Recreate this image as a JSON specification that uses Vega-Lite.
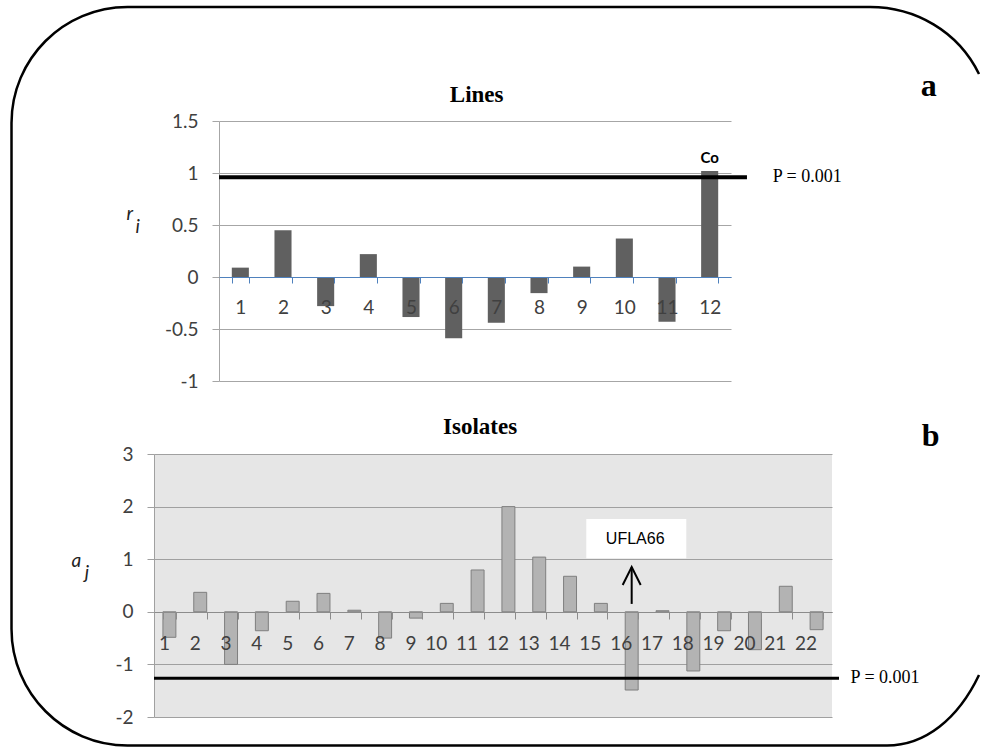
{
  "$schema": "https://vega.github.io/schema/vega-lite/v6.json",
  "padding": {"left": 6, "top": 2, "right": 0, "bottom": 0},
  "background": "white",
  "datasets": {
    "lines": [
      {"line": 1, "r": 0.09}, {"line": 2, "r": 0.45}, {"line": 3, "r": -0.28},
      {"line": 4, "r": 0.22}, {"line": 5, "r": -0.385}, {"line": 6, "r": -0.59},
      {"line": 7, "r": -0.44}, {"line": 8, "r": -0.155}, {"line": 9, "r": 0.1},
      {"line": 10, "r": 0.37}, {"line": 11, "r": -0.43}, {"line": 12, "r": 1.02, "label": "Co"}
    ],
    "isolates": [
      {"isolate": 1, "a": -0.485}, {"isolate": 2, "a": 0.37}, {"isolate": 3, "a": -1.0},
      {"isolate": 4, "a": -0.36}, {"isolate": 5, "a": 0.2}, {"isolate": 6, "a": 0.35},
      {"isolate": 7, "a": 0.03}, {"isolate": 8, "a": -0.5}, {"isolate": 9, "a": -0.12},
      {"isolate": 10, "a": 0.16}, {"isolate": 11, "a": 0.795}, {"isolate": 12, "a": 2.0},
      {"isolate": 13, "a": 1.04}, {"isolate": 14, "a": 0.675}, {"isolate": 15, "a": 0.16},
      {"isolate": 16, "a": -1.487}, {"isolate": 17, "a": 0.02}, {"isolate": 18, "a": -1.125},
      {"isolate": 19, "a": -0.36}, {"isolate": 20, "a": -0.72}, {"isolate": 21, "a": 0.485},
      {"isolate": 22, "a": -0.34}
    ],
    "panelA": [{"title": "Lines", "tag": "a", "threshold": 0.96, "plabel": "P = 0.001"}],
    "panelB": [{"title": "Isolates", "tag": "b", "threshold": -1.264, "plabel": "P = 0.001"}],
    "noteB": [{"isolate": 16, "label": "UFLA66"}]
  },
  "vconcat": [
    {
      "width": 577, "height": 260,
      "view": {"stroke": null, "fill": "white"},
      "layer": [
        {
          "data": {"name": "lines"},
          "mark": {"type": "bar", "color": "#606060"},
          "encoding": {
            "x": {"field": "line", "type": "ordinal",
              "scale": {"paddingInner": 0.6, "paddingOuter": 0.3, "range": [65, 577]},
              "axis": {"title": null, "offset": -104, "domainColor": "#4f81bd", "tickColor": "#4f81bd",
                "tickSize": 6, "tickBand": "extent", "labelAngle": 0, "labelFont": "Lato", "labelFontSize": 19,
                "labelColor": "#404040", "labelPadding": 15, "grid": false, "zindex": 1}},
            "y": {"field": "r", "type": "quantitative",
              "scale": {"domain": [-1, 1.5], "nice": false},
              "axis": {"values": [-1, -0.5, 0, 0.5, 1, 1.5], "labelExpr": "datum.value + ''", "offset": -65,
                "grid": true, "gridColor": "#a6a6a6", "domainColor": "#a6a6a6", "tickColor": "#a6a6a6",
                "tickSize": 7, "labelFont": "Lato", "labelFontSize": 19, "labelColor": "#404040", "labelPadding": 14,
                "title": ["r", "\u200b\u00a0\u00a0i"], "titleAngle": 0, "titleFont": "Lato", "titleFontStyle": "italic",
                "titleFontWeight": "normal", "titleFontSize": 19, "titleColor": "#222222",
                "titleX": -93, "titleY": 98, "titleAlign": "left", "titleBaseline": "alphabetic", "titleLineHeight": 13}}
          }
        },
        {
          "data": {"name": "lines"},
          "transform": [{"filter": "datum.label"}],
          "mark": {"type": "text", "font": "Lato", "fontWeight": "bold", "fontSize": 15, "color": "black", "baseline": "bottom", "dy": -5},
          "encoding": {
            "x": {"field": "line", "type": "ordinal"},
            "y": {"field": "r", "type": "quantitative"},
            "text": {"field": "label"}
          }
        },
        {
          "data": {"name": "panelA"},
          "mark": {"type": "rule", "color": "black", "strokeWidth": 4, "xOffset": -21.3, "x2Offset": 37.3},
          "encoding": {
            "x": {"datum": 1, "type": "ordinal"},
            "x2": {"datum": 12},
            "y": {"field": "threshold", "type": "quantitative"}
          }
        },
        {
          "data": {"name": "panelA"},
          "mark": {"type": "text", "font": "Liberation Serif", "fontSize": 18, "color": "black", "align": "left", "baseline": "middle", "dx": 63},
          "encoding": {
            "x": {"datum": 12, "type": "ordinal"},
            "y": {"field": "threshold", "type": "quantitative"},
            "text": {"field": "plabel"}
          }
        },
        {
          "data": {"name": "panelA"},
          "mark": {"type": "text", "font": "Liberation Serif", "fontWeight": "bold", "fontSize": 32, "color": "black", "align": "center", "baseline": "alphabetic", "dx": 219, "dy": -25},
          "encoding": {
            "x": {"datum": 12, "type": "ordinal"},
            "y": {"datum": 1.5, "type": "quantitative"},
            "text": {"field": "tag"}
          }
        },
        {
          "data": {"name": "panelA"},
          "mark": {"type": "text", "font": "Liberation Serif", "fontWeight": "bold", "fontSize": 23, "color": "black", "align": "center", "baseline": "alphabetic", "dx": 23, "dy": -19},
          "encoding": {
            "x": {"datum": 6, "type": "ordinal"},
            "y": {"datum": 1.5, "type": "quantitative"},
            "text": {"field": "title"}
          }
        }
      ]
    },
    {
      "width": 678, "height": 263,
      "view": {"stroke": null, "fill": "#e6e6e6"},
      "layer": [
        {
          "data": {"values": [{"element": "frame"}]},
          "mark": {"type": "point", "filled": false, "opacity": 1, "stroke": "black", "strokeWidth": 2.5, "size": 4,
            "shape": "M 809.6 -380 C 788.6 -423 745.6 -447 700.6 -447 L -41.9 -447 C -105.9 -447 -157.9 -395 -157.9 -331 L -157.9 175 C -157.9 239 -105.9 291.5 -41.9 291.5 L 717.6 291.5 C 755.6 291.5 788.6 265 809.6 221"},
          "encoding": {
            "x": {"datum": 1, "type": "ordinal"},
            "y": {"datum": 3, "type": "quantitative"}
          }
        },
        {
          "data": {"name": "isolates"},
          "mark": {"type": "bar", "color": "#b3b3b3", "stroke": "#7f7f7f", "strokeWidth": 1},
          "encoding": {
            "x": {"field": "isolate", "type": "ordinal",
              "scale": {"paddingInner": 0.58, "paddingOuter": 0.29},
              "axis": {"title": null, "offset": -105, "domainColor": "#8c8c8c", "tickColor": "#8c8c8c",
                "tickSize": 7, "tickBand": "extent", "labelAngle": 0, "labelFont": "Lato", "labelFontSize": 19,
                "labelColor": "#404040", "labelPadding": 24, "grid": false, "zindex": 1}},
            "y": {"field": "a", "type": "quantitative",
              "scale": {"domain": [-2, 3], "nice": false},
              "axis": {"values": [-2, -1, 0, 1, 2, 3], "labelExpr": "datum.value + ''",
                "grid": true, "gridColor": "#a0a0a0", "domainColor": "#a0a0a0", "tickColor": "#a0a0a0",
                "tickSize": 7, "labelFont": "Lato", "labelFontSize": 19, "labelColor": "#404040", "labelPadding": 14,
                "title": ["a", "\u200b\u00a0\u00a0\u00a0j"], "titleAngle": 0, "titleFont": "Lato", "titleFontStyle": "italic",
                "titleFontWeight": "normal", "titleFontSize": 19, "titleColor": "#222222",
                "titleX": -83, "titleY": 112, "titleAlign": "left", "titleBaseline": "alphabetic", "titleLineHeight": 12}}
          }
        },
        {
          "data": {"name": "panelB"},
          "mark": {"type": "rule", "color": "black", "strokeWidth": 3, "xOffset": 7},
          "encoding": {"y": {"field": "threshold", "type": "quantitative"}}
        },
        {
          "data": {"name": "panelB"},
          "mark": {"type": "text", "font": "Liberation Serif", "fontSize": 18, "color": "black", "align": "left", "baseline": "middle", "dx": 34},
          "encoding": {
            "x": {"datum": 22, "type": "ordinal"},
            "y": {"field": "threshold", "type": "quantitative"},
            "text": {"field": "plabel"}
          }
        },
        {
          "data": {"name": "panelB"},
          "mark": {"type": "text", "font": "Liberation Serif", "fontWeight": "bold", "fontSize": 32, "color": "black", "align": "center", "baseline": "alphabetic", "dx": 114, "dy": -8},
          "encoding": {
            "x": {"datum": 22, "type": "ordinal"},
            "y": {"datum": 3, "type": "quantitative"},
            "text": {"field": "tag"}
          }
        },
        {
          "data": {"name": "panelB"},
          "mark": {"type": "text", "font": "Liberation Serif", "fontWeight": "bold", "fontSize": 23, "color": "black", "align": "center", "baseline": "alphabetic", "dx": 2.5, "dy": -20},
          "encoding": {
            "x": {"datum": 11, "type": "ordinal"},
            "y": {"datum": 3, "type": "quantitative"},
            "text": {"field": "title"}
          }
        },
        {
          "data": {"name": "noteB"},
          "mark": {"type": "bar", "color": "white", "width": 100, "xOffset": 4.6},
          "encoding": {
            "x": {"field": "isolate", "type": "ordinal"},
            "y": {"datum": 1.02, "type": "quantitative"},
            "y2": {"datum": 1.765}
          }
        },
        {
          "data": {"name": "noteB"},
          "mark": {"type": "text", "font": "Liberation Sans", "fontSize": 16, "color": "black", "align": "center", "baseline": "middle", "dx": 3.5},
          "encoding": {
            "x": {"field": "isolate", "type": "ordinal"},
            "y": {"datum": 1.39, "type": "quantitative"},
            "text": {"field": "label"}
          }
        },
        {
          "data": {"name": "noteB"},
          "mark": {"type": "rule", "color": "black", "strokeWidth": 2},
          "encoding": {
            "x": {"field": "isolate", "type": "ordinal"},
            "y": {"datum": 0.15, "type": "quantitative"},
            "y2": {"datum": 0.85}
          }
        },
        {
          "data": {"name": "noteB"},
          "mark": {"type": "point", "filled": false, "opacity": 1, "stroke": "black", "strokeWidth": 2, "size": 4,
            "shape": "M -9 18 L 0 0 L 9 18"},
          "encoding": {
            "x": {"field": "isolate", "type": "ordinal"},
            "y": {"datum": 0.852, "type": "quantitative"}
          }
        }
      ]
    }
  ],
  "bounds": "flush",
  "spacing": 73,
  "config": {
    "view": {"stroke": null}
  }
}
